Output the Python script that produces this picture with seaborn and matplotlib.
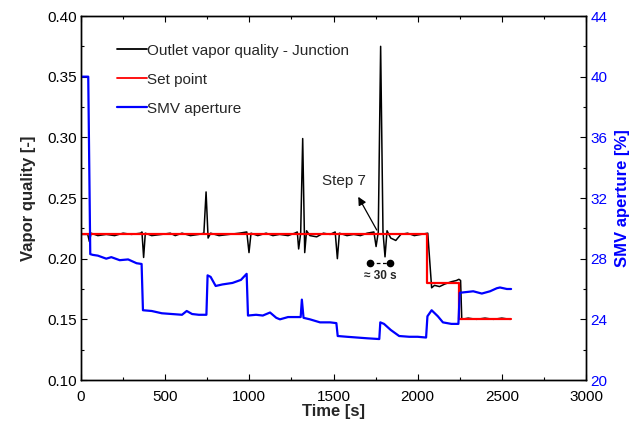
import numpy as np
import pandas as pd
import matplotlib
matplotlib.use("Agg")
import matplotlib.pyplot as plt
from matplotlib.lines import Line2D
from matplotlib.ticker import MultipleLocator
import seaborn as sns

# ---------------- data ----------------
quality_time = [0, 40, 50, 60, 100, 150, 200, 250, 300, 355, 362, 372, 382, 420, 480, 530, 560,
                600, 650, 700, 730, 743, 755, 770, 820, 880, 940, 985, 998, 1010, 1050, 1100,
                1140, 1180, 1230, 1270, 1285, 1293, 1305, 1317, 1329, 1340, 1360, 1400, 1440,
                1480, 1510, 1523, 1535, 1580, 1620, 1660, 1700, 1740, 1753, 1766, 1780, 1794,
                1806, 1818, 1840, 1870, 1900, 1940, 1980, 2020, 2060, 2083, 2100, 2130, 2160,
                2200, 2230, 2245, 2255, 2262, 2300, 2350, 2400, 2450, 2500, 2550]
quality_vals = [0.220, 0.220, 0.214, 0.221, 0.219, 0.220, 0.219, 0.221, 0.220, 0.221, 0.222,
                0.201, 0.221, 0.219, 0.220, 0.221, 0.219, 0.221, 0.219, 0.220, 0.221, 0.255,
                0.217, 0.221, 0.219, 0.220, 0.221, 0.222, 0.205, 0.221, 0.219, 0.221, 0.219,
                0.220, 0.219, 0.221, 0.222, 0.208, 0.221, 0.299, 0.205, 0.223, 0.219, 0.218,
                0.221, 0.220, 0.222, 0.200, 0.221, 0.219, 0.220, 0.219, 0.221, 0.222, 0.210,
                0.222, 0.375, 0.222, 0.2015, 0.223, 0.217, 0.215, 0.220, 0.221, 0.219, 0.220,
                0.221, 0.176, 0.178, 0.177, 0.179, 0.181, 0.182, 0.183, 0.182, 0.150, 0.151,
                0.150, 0.151, 0.150, 0.151, 0.150]

setpoint_time = [0, 2055, 2245, 2555]
setpoint_vals = [0.22, 0.18, 0.15, 0.15]

smv_time = [0, 43, 55, 70, 100, 150, 180, 230, 280, 330, 360, 368, 420, 480, 540, 600, 628,
            660, 700, 745, 752, 770, 800, 840, 900, 950, 984, 992, 1040, 1080, 1123, 1160,
            1182, 1230, 1305, 1312, 1322, 1360, 1420, 1480, 1517, 1525, 1580, 1640, 1700,
            1772, 1778, 1800, 1840, 1890, 1950, 2000, 2050, 2058, 2083, 2120, 2150, 2200,
            2242, 2250, 2290, 2330, 2381, 2430, 2470, 2489, 2530, 2555]
smv_vals = [40.0, 40.0, 28.3, 28.25, 28.2, 28.0, 28.1, 27.9, 27.95, 27.7, 27.65, 24.6, 24.55,
            24.4, 24.35, 24.3, 24.55, 24.35, 24.3, 24.3, 26.9, 26.8, 26.2, 26.3, 26.4, 26.6,
            27.0, 24.25, 24.3, 24.25, 24.45, 24.1, 24.0, 24.15, 24.15, 25.3, 24.1, 24.0, 23.8,
            23.8, 23.75, 22.9, 22.85, 22.8, 22.75, 22.7, 23.8, 23.7, 23.3, 22.9, 22.85, 22.85,
            22.8, 24.2, 24.6, 24.2, 23.8, 23.7, 23.7, 25.75, 25.8, 25.85, 25.7, 25.85, 26.05,
            26.1, 26.0, 26.0]

labels = ["Outlet vapor quality - Junction", "Set point", "SMV aperture"]

# ---------------- style ----------------
sns.set_theme(style="white")
plt.rcParams['font.family'] = ['Liberation Sans', 'DejaVu Sans']

fig = plt.figure(figsize=(6.44, 4.26), dpi=100)
ax = fig.add_axes([81/644, 1-380/426, (586-81)/644, (380-16)/426])
ax2 = ax.twinx()

sns.lineplot(x=quality_time, y=quality_vals, ax=ax, color="black", lw=1.1, sort=False)
sns.lineplot(x=setpoint_time, y=setpoint_vals, ax=ax, color="#ff0000", lw=1.6,
             drawstyle="steps-post", sort=False)
sns.lineplot(x=smv_time, y=smv_vals, ax=ax2, color="#0000ff", lw=1.6, sort=False)

ax.set_xlim(0, 3000)
ax.set_ylim(0.10, 0.40)
ax2.set_ylim(20, 44)

ax.xaxis.set_major_locator(MultipleLocator(500))
ax.xaxis.set_minor_locator(MultipleLocator(250))
ax.yaxis.set_major_locator(MultipleLocator(0.05))
ax.yaxis.set_minor_locator(MultipleLocator(0.025))
ax2.yaxis.set_major_locator(MultipleLocator(4))
ax2.yaxis.set_minor_locator(MultipleLocator(2))

ax.yaxis.set_major_formatter(matplotlib.ticker.FormatStrFormatter('%.2f'))

for a in (ax, ax2):
    for s in a.spines.values():
        s.set_color("black")
        s.set_linewidth(1.0)

ax.tick_params(axis='x', which='both', direction='in', top=True, bottom=True, labelsize=11,
               colors='black', pad=7)
ax.tick_params(axis='y', which='both', direction='in', left=True, right=False, labelsize=11,
               colors='black', pad=3)
ax.tick_params(which='major', length=4, width=0.8)
ax.tick_params(which='minor', length=2.5, width=0.8)
ax2.tick_params(axis='y', which='both', direction='in', right=True, labelsize=11,
                labelcolor='#0000ff', color='black', pad=3)
ax2.tick_params(which='major', length=4, width=0.8)
ax2.tick_params(which='minor', length=2.5, width=0.8)

ax.set_xlabel("Time [s]", fontsize=12, fontweight='bold', labelpad=0)
ax.set_ylabel("Vapor quality [-]", fontsize=12, fontweight='bold', labelpad=8)
ax2.set_ylabel("SMV aperture [%]", fontsize=12, fontweight='bold', color='#0000ff', labelpad=6)
ax.grid(False)
ax2.grid(False)

handles = [Line2D([], [], color="black", lw=1.3),
           Line2D([], [], color="#ff0000", lw=1.3),
           Line2D([], [], color="#0000ff", lw=1.6)]
leg = ax.legend(handles, labels, loc='upper left', bbox_to_anchor=(0.045, 0.962), frameon=False,
                fontsize=11, handlelength=1.95, handletextpad=0.0, labelspacing=0.98)

# annotations
ax.annotate("", xy=(1647, 0.251), xytext=(1757, 0.2236),
            arrowprops=dict(arrowstyle='-|>', color='black', lw=0.9, mutation_scale=12,
                            shrinkA=0, shrinkB=0))
ax.text(1563, 0.2642, "Step 7", fontsize=11, ha='center', va='center')
ax.plot([1717, 1836], [0.1967, 0.1967], color='black', ls=(0, (3, 2)), lw=0.9,
        marker='o', markersize=4.5)
ax.text(1776, 0.186, "\u2248 30 s", fontsize=8.5, fontweight='bold', ha='center', va='center')

fig.savefig("out.png", dpi=100)
